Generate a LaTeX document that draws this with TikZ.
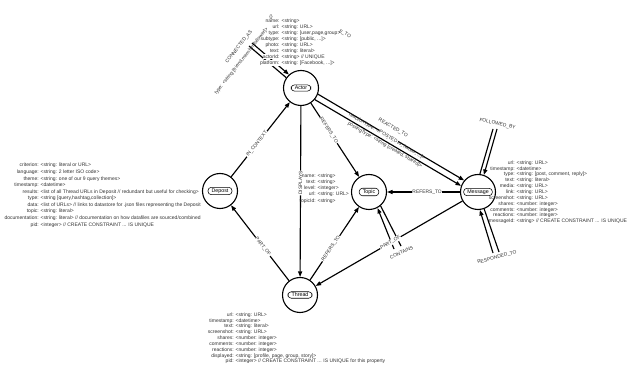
\documentclass[tikz,border=0pt]{standalone}
\usepackage{fontspec}
\setmainfont{Liberation Sans}
\usetikzlibrary{arrows.meta,calc}
\newcommand\kb[1]{{\setlength\fboxsep{0.3pt}\colorbox{white}{#1}}}
\newcommand\pblock[6]{%
  \node[ptxt,font=\fontsize{5}{#4}\selectfont,anchor=north east] (#1k) at (#2,#3+0.7*#4) {\begin{tabular}{@{}r@{}}#5\end{tabular}};
  \node[ptxt,font=\fontsize{5}{#4}\selectfont,anchor=north west] (#1v) at (#2+1.4,#3+0.7*#4) {\begin{tabular}{@{}l@{}}#6\end{tabular}};
}
\begin{document}
\begin{tikzpicture}[x=1pt,y=1pt,
  ent/.style={circle,draw,line width=1.1pt,minimum size=35pt,inner sep=0pt},
  elbl/.style={draw,rounded corners=3.3pt,line width=0.55pt,inner xsep=3.6pt,inner ysep=1.3pt,font=\fontsize{5.3}{6}\selectfont},
  edge/.style={line width=1.15pt,-{Triangle[length=5.5pt,width=4pt]}},
  loopl/.style={line width=1.15pt},
  rel/.style={font=\fontsize{4.9}{5.5}\selectfont,inner sep=0.6pt,fill=white,text=black!80},
  reln/.style={font=\fontsize{4.9}{5.5}\selectfont,inner sep=0.6pt,text=black!80},
  ptxt/.style={inner sep=0pt,text=black!80}
]
\useasboundingbox (0,0) rectangle (635,367);
\fill[white] (0,0) rectangle (635,367);

% entities
\node[ent] (actor) at (301,279) {};
\node[elbl] (actorl) at (actor) {Actor};
\node[ent] (depost) at (220,176) {};
\node[elbl] (depostl) at (depost) {Depost};
\node[ent] (topic) at (369,175) {};
\node[elbl] (topicl) at (topic) {Topic};
\node[ent] (message) at (478,175) {};
\node[elbl] (messagel) at (message) {Message};
\node[ent] (thread) at (300,72) {};
\node[elbl] (threadl) at (thread) {Thread};

% self loops
\coordinate (caA) at (252,324);
\coordinate (caB) at (249,321);
\draw[edge] (caA) -- (actor.132);
\draw[loopl] (actor.145) -- (caB);

\coordinate (fbL) at (493,238);
\coordinate (fbR) at (497,238);
\draw[loopl] (message.84) -- (fbL);
\draw[edge] (fbR) -- (message.71);

\coordinate (rtL) at (493,114);
\coordinate (rtR) at (499,115);
\draw[edge] (rtL) -- (message.-84);
\draw[loopl] (message.-70) -- (rtR);

\coordinate (ctA) at (394,118);
\coordinate (ctB) at (401,121);
\draw[edge] (ctA) -- (topic.-62);
\draw[loopl] (topic.-50) -- (ctB);

% edges
\draw[edge] (depost) -- node[rel,sloped,pos=0.44] (l1) {IN\_CONTEXT} (actor);
\draw[edge] (thread) -- node[rel,sloped,pos=0.45] (l2) {PART\_OF} (depost);
\draw[edge] (actor) -- node[rel,sloped,pos=0.45] (l3) {DISPLAYS} (thread);
\draw[edge] (actor) -- node[rel,sloped,pos=0.37] (l4) {REFERS\_TO} (topic);
\draw[edge] (thread) -- node[rel,sloped,pos=0.43] (l5) {REFERS\_TO} (topic);
\draw[edge] (message) -- node[rel,sloped,pos=0.45] (l6) {REFERS\_TO} (topic);
\draw[edge] (message) -- node[rel,sloped,pos=0.49] (l7) {PART\_OF} (thread);
\draw[edge] (actor.-20) -- (message.140);
\draw[edge] (actor.-40) -- (message.160);

% actor-message labels
\node[reln,rotate=-30.4] (rtype) at (387,230.5) {reactionType: <string: [likes, hahas, ...]>};
\node[rel,rotate=-30.4] (reacted) at (393,239) {REACTED\_TO};
\node[reln,rotate=-30.4] (ptype) at (385,222) {postingType: <string [created, shared]>};
\node[rel,rotate=-30.4] (posted) at (388.5,230.5) {POSTED};

% loop labels
\node[reln,rotate=52] (cat) at (239,320) {CONNECTED\_AS};
\node[reln,rotate=52] (catype) at (241.5,306) {type: <string [friend,member,follower]>};
\node[reln,rotate=-13] (fbt) at (497.5,243) {FOLLOWED\_BY};
\node[reln,rotate=15] (rtt) at (497,109.5) {RESPONDED\_TO};
\node[reln,rotate=25] (ctt) at (401.5,114.5) {CONTAINS};
\node[reln,rotate=-28] (eto) at (345,333) {E\_TO};
\node[reln] (brace) at (271,350) {\{\}};

% property blocks
\pblock{dep}{39}{200.2}{6.56}{criterion:\\language:\\theme:\\timestamp:\\results:\\type:\\data:\\topic:\\documentation:\\pid:}{<string: literal or URL>\\<string:  2 letter ISO code>\\<string:  one of our  9 query themes>\\<datetime>\\<list of all Thread URLs in Deposit // redundant but useful for checking>\\<string [query,hashtag,collection]>\\<list of URLs> // links to datastore for .json files representing the Deposit\\<string: literal>\\<string: literal> // documentation on how datafiles are sourced/combined\\<integer> // CREATE CONSTRAINT ... IS UNIQUE}
\pblock{act}{280}{344.2}{5.9}{\kb{name:}\\\kb{url:}\\\kb{type:}\\\kb{subtype:}\\\kb{photo:}\\\kb{text:}\\\kb{actorId:}\\\kb{platform:}}{<string>\\<string: URL>\\<string: [user,page,group>\\<string: [public, ...]>\\<string: URL>\\<string: literal>\\<string> // UNIQUE\\<string: [Facebook, ...]>}
\pblock{msg}{515}{202.9}{5.84}{url:\\timestamp:\\type:\\text:\\media:\\link:\\screenshot:\\shares:\\comments:\\reactions:\\messageId:}{<string: URL>\\<datetime>\\<string: [post, comment, reply]>\\<string: literal>\\<string: URL>\\<string: URL>\\<string: URL>\\<number: integer>\\<number: integer>\\<number: integer>\\<string> // CREATE CONSTRAINT ... IS UNIQUE}
\pblock{thr}{234}{50.9}{5.83}{url:\\timestamp:\\text:\\screenshot:\\shares:\\comments:\\reactions:\\displayed:\\pid:}{<string: URL>\\<datetime>\\<string: literal>\\<string: URL>\\<number: integer>\\<number: integer>\\<number: integer>\\<string: [profile, page, group, story]>\\<integer> // CREATE CONSTRAINT ... IS UNIQUE for this property}
\pblock{top}{316}{189.5}{6.1}{name:\\text:\\level:\\url:\\topicId:}{<string>\\<string>\\<integer>\\<string: URL>\\<string>}
\end{tikzpicture}
\end{document}
